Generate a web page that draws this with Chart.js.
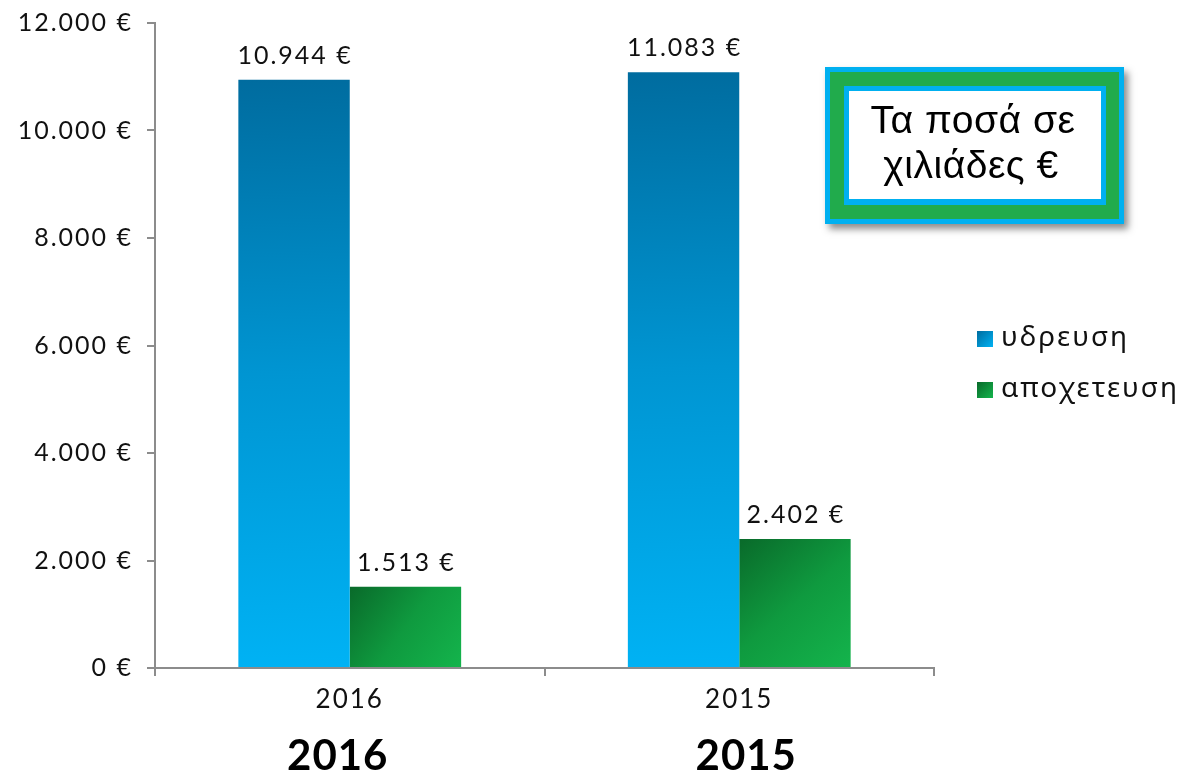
<!DOCTYPE html>
<html>
<head>
<meta charset="utf-8">
<script src="https://cdn.jsdelivr.net/npm/chart.js@4.4.0/dist/chart.umd.min.js"></script>
<style>
    html, body { margin: 0; padding: 0; background: #ffffff; }
    #wrap { width: 1196px; height: 774px; }
</style>
</head>
<body>
<div id="wrap"><canvas id="waterChart" width="1196" height="774"></canvas></div>
<script>
// ==============================
// Data
// ==============================
const years = ["2016", "2015"];
const waterSupply = [10944, 11083];   // υδρευση
const sewerage = [1513, 2402];        // αποχετευση
const seriesNames = ["υδρευση", "αποχετευση"];
const yMax = 12000;
const yStep = 2000;
const noteLines = ["Τα ποσά σε", "χιλιάδες €"];

const BAR_SHARE = 0.572;
const AXIS_GREY = "#8c8c8c";
const DIGIT_FONT = "Lato, 'Noto Sans', sans-serif";
const GREEK_FONT = "'Noto Sans', 'DejaVu Sans', sans-serif";

function euro(value) {
    return String(value).replace(/\B(?=(\d{3})+(?!\d))/g, ".") + " €";
}

// gradient for one bar, built from the scales
function barGradient(ctx, stops, diagonal) {
    const chart = ctx.chart;
    const area = chart.chartArea;
    if (!area || ctx.type !== "data") return stops[stops.length - 1][1];

    const xScale = chart.scales.x;
    const yScale = chart.scales.y;
    const catWidth = (area.right - area.left) / years.length;
    const barWidth = catWidth * BAR_SHARE / 2;
    const centre = xScale.getPixelForValue(ctx.dataIndex) + (ctx.datasetIndex === 0 ? -barWidth / 2 : barWidth / 2);
    const left = centre - barWidth / 2;
    const right = centre + barWidth / 2;
    const top = yScale.getPixelForValue(ctx.raw);
    const bottom = yScale.getPixelForValue(0);

    const g = chart.ctx.createLinearGradient(left, top, diagonal ? right : left + barWidth * 0.25, bottom);
    stops.forEach(s => g.addColorStop(s[0], s[1]));
    return g;
}

const blueStops = [[0, "#006c9f"], [0.5, "#0095d2"], [1, "#00b2f4"]];
const greenStops = [[0, "#096a2a"], [0.5, "#0f9a3f"], [1, "#14b44c"]];

// ==============================
// Extra drawing: labels, legend, note box
// ==============================
const decorPlugin = {
    id: "decor",
    beforeDraw(chart) {
        chart.ctx.letterSpacing = "2px";
    },
    afterDraw(chart) {
        const ctx = chart.ctx;
        const xScale = chart.scales.x;

        ctx.save();

        // value labels above bars
        ctx.fillStyle = "#111111";
        ctx.font = "25px " + DIGIT_FONT;
        ctx.letterSpacing = "2px";
        ctx.textAlign = "center";
        ctx.textBaseline = "alphabetic";
        chart.data.datasets.forEach((ds, di) => {
            chart.getDatasetMeta(di).data.forEach((bar, i) => {
                ctx.fillText(euro(ds.data[i]), bar.x + 1, bar.y - 16);
            });
        });

        // big bold year labels
        ctx.font = "bold 42px " + DIGIT_FONT;
        ctx.letterSpacing = "1px";
        ctx.fillStyle = "#000000";
        const shifts = [-12, 7];
        years.forEach((y, i) => {
            ctx.fillText(y, xScale.getPixelForValue(i) + shifts[i], 770);
        });

        // legend
        const legendStops = [blueStops, greenStops];
        ctx.textAlign = "left";
        ctx.textBaseline = "middle";
        ctx.font = "28px " + GREEK_FONT;
        ctx.letterSpacing = "2px";
        seriesNames.forEach((name, i) => {
            const sx = 977, sy = 331 + i * 51;
            const g = ctx.createLinearGradient(sx, sy, sx + 16, sy + 16);
            g.addColorStop(0, legendStops[i][0][1]);
            g.addColorStop(1, legendStops[i][2][1]);
            ctx.fillStyle = g;
            ctx.fillRect(sx, sy, 16, 16);
            ctx.fillStyle = "#111111";
            ctx.fillText(name, 1001, sy + 7);
        });

        // note box
        ctx.save();
        ctx.shadowColor = "rgba(0,0,0,0.45)";
        ctx.shadowBlur = 7;
        ctx.shadowOffsetX = 4;
        ctx.shadowOffsetY = 5;
        ctx.fillStyle = "#00b0f0";
        ctx.fillRect(825, 67, 299, 157);
        ctx.restore();
        ctx.fillStyle = "#21ab4c";
        ctx.fillRect(830, 72, 289, 147);
        ctx.fillStyle = "#00b0f0";
        ctx.fillRect(844, 86, 262, 119);
        ctx.fillStyle = "#ffffff";
        ctx.fillRect(849, 91, 252, 108);

        ctx.fillStyle = "#000000";
        ctx.font = "39px 'Liberation Sans', Arial, sans-serif";
        ctx.textAlign = "center";
        ctx.textBaseline = "alphabetic";
        ctx.letterSpacing = "0.5px";
        ctx.fillText(noteLines[0], 973, 133);
        ctx.fillText(noteLines[1], 971, 178);

        ctx.restore();
    }
};

// ==============================
// Chart
// ==============================
const chartCanvas = document.getElementById("waterChart");

new Chart(chartCanvas, {
    type: "bar",
    data: {
        labels: years,
        datasets: [
            {
                label: seriesNames[0],
                data: waterSupply,
                backgroundColor: ctx => barGradient(ctx, blueStops, false),
                borderWidth: 0,
                barPercentage: 1,
                categoryPercentage: BAR_SHARE
            },
            {
                label: seriesNames[1],
                data: sewerage,
                backgroundColor: ctx => barGradient(ctx, greenStops, true),
                borderWidth: 0,
                barPercentage: 1,
                categoryPercentage: BAR_SHARE
            }
        ]
    },
    options: {
        responsive: false,
        animation: false,
        devicePixelRatio: 1,
        layout: {
            padding: { top: 23, right: 262, bottom: 0, left: 0 }
        },
        plugins: {
            legend: { display: false },
            tooltip: { enabled: false }
        },
        scales: {
            x: {
                grid: {
                    display: true,
                    drawOnChartArea: false,
                    drawTicks: true,
                    tickLength: 8,
                    color: AXIS_GREY,
                    lineWidth: 2,
                    offset: true
                },
                border: { color: AXIS_GREY, width: 2 },
                ticks: {
                    color: "#111111",
                    padding: 8,
                    font: { family: DIGIT_FONT, size: 26 }
                },
                afterFit: scale => {
                    scale.height = 106;
                    scale.paddingLeft = 0;
                    scale.paddingRight = 0;
                }
            },
            y: {
                min: 0,
                max: yMax,
                grid: {
                    drawOnChartArea: false,
                    drawTicks: true,
                    tickLength: 8,
                    color: AXIS_GREY,
                    lineWidth: 2
                },
                border: { color: AXIS_GREY, width: 2 },
                ticks: {
                    stepSize: yStep,
                    color: "#111111",
                    padding: 14,
                    font: { family: DIGIT_FONT, size: 25 },
                    callback: value => euro(value)
                },
                afterFit: scale => {
                    scale.width = 155;
                    scale.paddingTop = 0;
                    scale.paddingBottom = 0;
                }
            }
        }
    },
    plugins: [decorPlugin]
});
</script>
</body>
</html>
